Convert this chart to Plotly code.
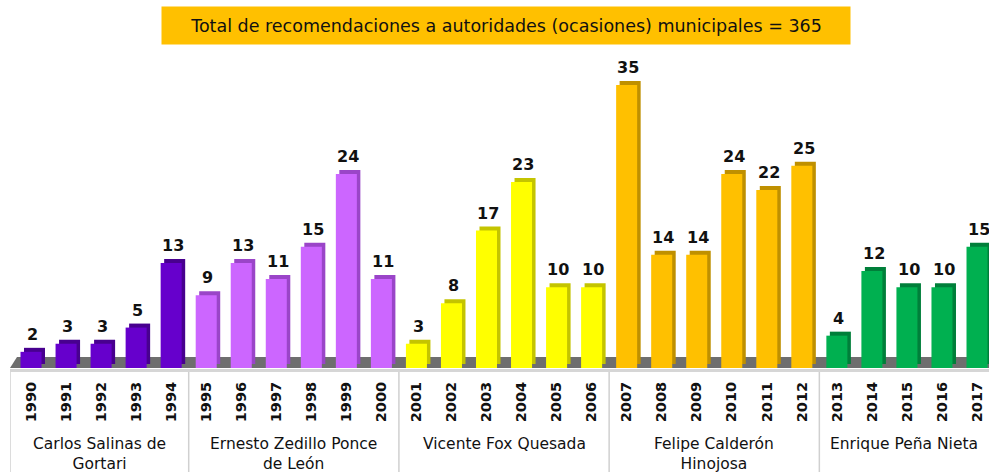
import plotly.graph_objects as go

# Recomendaciones a autoridades municipales por año, agrupadas por sexenio
years = [str(y) for y in range(1990, 2018)]
values = [2, 3, 3, 5, 13,
          9, 13, 11, 15, 24, 11,
          3, 8, 17, 23, 10, 10,
          35, 14, 14, 24, 22, 25,
          4, 12, 10, 10, 15]
presidents = ["Carlos Salinas de<br>Gortari",
              "Ernesto Zedillo Ponce<br>de León",
              "Vicente Fox Quesada",
              "Felipe Calderón<br>Hinojosa",
              "Enrique Peña Nieta"]
group_sizes = [5, 6, 6, 6, 5]
front_colors = ["#6600CC", "#CC66FF", "#FFFF00", "#FFC000", "#00B050"]
side_colors = ["#48008F", "#9A45C8", "#C4C400", "#BF9000", "#007F3A"]
title_text = "Total de recomendaciones a autoridades (ocasiones) municipales = 365"

FONT = "DejaVu Sans"
W, H = 989, 472
M_L, M_R, M_T, M_B = 10, 0, 40, 104
plot_h = H - M_T - M_B
px_per_unit_y = 8.086
y_max = plot_h / px_per_unit_y
x_min, x_max = -0.6, 27.342
px_per_unit_x = (W - M_L - M_R) / (x_max - x_min)

# depth of the pseudo-3D effect, in data units
dx = 3.5 / px_per_unit_x
dy = 4.0 / px_per_unit_y

x_idx = list(range(len(years)))
bar_front, bar_side = [], []
for g, n in enumerate(group_sizes):
    bar_front += [front_colors[g]] * n
    bar_side += [side_colors[g]] * n

fig = go.Figure()

# back (shaded) faces
fig.add_trace(go.Bar(
    x=[i + dx for i in x_idx], y=values, base=dy, width=0.6,
    marker=dict(color=bar_side, line=dict(width=0)),
    hoverinfo="skip", showlegend=False))
# front faces
fig.add_trace(go.Bar(
    x=x_idx, y=values, width=0.6,
    marker=dict(color=bar_front, line=dict(width=0)),
    showlegend=False))

# value labels
for i, v in zip(x_idx, values):
    fig.add_annotation(x=i + dx / 2, y=v, text=str(v), showarrow=False,
                       yanchor="bottom", yshift=6,
                       font=dict(family=FONT, size=16, color="#111111", weight="bold"))

# floor slab
floor_h = 11 / px_per_unit_y
slant = 7 / px_per_unit_x
fig.add_shape(type="path", xref="x", yref="y", layer="below",
              path=f"M {x_min},0 L {x_min + slant},{floor_h} L {x_max},{floor_h} L {x_max},0 Z",
              fillcolor="#6E6E6E", line=dict(width=0))

# axis base line
fig.add_shape(type="line", xref="x", yref="paper", x0=x_min, x1=x_max,
              y0=-2.5 / plot_h, y1=-2.5 / plot_h,
              line=dict(color="#D6D6D6", width=3))

# group separators and labels
bounds = [x_min]
pos = 0
for n in group_sizes[:-1]:
    pos += n
    bounds.append(pos - 0.5)
bounds.append(x_max)
for b in bounds[:-1]:
    fig.add_shape(type="line", xref="x", yref="paper", x0=b, x1=b,
                  y0=-4 / plot_h, y1=-M_B / plot_h,
                  line=dict(color="#D0D0D0", width=1.5))
for g, name in enumerate(presidents):
    cx = (bounds[g] + bounds[g + 1]) / 2
    fig.add_annotation(x=cx, xref="x", y=-(432.5 - (H - M_B)) / plot_h, yref="paper",
                       text=name, showarrow=False, yanchor="top",
                       font=dict(family=FONT, size=15.5, color="#111111"))

# title box
fig.add_annotation(x=(157 + 845) / 2 / W, xref="paper",
                   y=1 + (M_T - 25) / plot_h, yref="paper", yanchor="middle",
                   text=title_text, showarrow=False,
                   bgcolor="#FFC000", width=686, height=35,
                   font=dict(family=FONT, size=17.5, color="#111111"))

fig.update_layout(
    width=W, height=H, barmode="overlay",
    margin=dict(l=M_L, r=M_R, t=M_T, b=M_B),
    paper_bgcolor="white", plot_bgcolor="white",
    xaxis=dict(range=[x_min, x_max], tickvals=x_idx, ticktext=years,
               tickangle=-90, ticks="", showgrid=False, zeroline=False,
               showline=False, ticklabelstandoff=10,
               tickfont=dict(family=FONT, size=14.5, color="#111111", weight="bold")),
    yaxis=dict(range=[0, y_max], visible=False),
)

fig.write_html("out.html")
